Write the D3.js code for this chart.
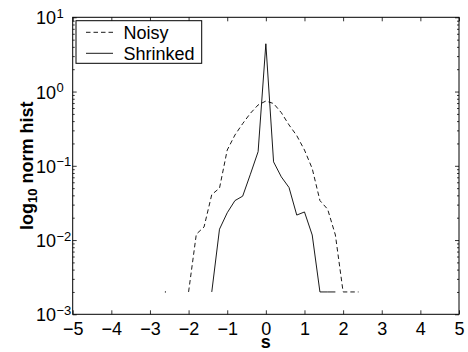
<!DOCTYPE html>
<html><head><meta charset="utf-8">
<script src="https://cdn.jsdelivr.net/npm/d3@7"></script>
<style>
html,body{margin:0;padding:0;background:#fff;}
svg{display:block;font-family:"Liberation Sans",Arial,Helvetica,sans-serif;}
</style></head>
<body><svg id="c" width="468" height="352"></svg>
<script>
// data
const sValues = [-2.6,-2.4,-2.2,-2.0,-1.8,-1.6,-1.4,-1.2,-1.0,-0.8,-0.6,-0.4,-0.2,0,0.2,0.4,0.6,0.8,1.0,1.2,1.4,1.6,1.8,2.0,2.2,2.4];
const noisy = [0.002,null,null,0.002,0.012,0.015,0.041,0.050,0.163,0.26,0.37,0.51,0.66,0.745,0.69,0.52,0.355,0.255,0.163,0.092,0.034,0.026,0.0117,0.002,0.002,0.002];
const shrinked = [null,null,null,null,null,null,0.002,0.014,0.0233,0.034,0.039,0.077,0.155,4.4,0.113,0.071,0.051,0.0217,0.0239,0.0117,0.002,0.002,0.002,null,null,null];
const seriesNames = ["Noisy","Shrinked"];
const xTicks = [-5,-4,-3,-2,-1,0,1,2,3,4,5];
const yExponents = [1,0,-1,-2,-3];
const xLabel = "s";

const svg = d3.select("#c");
const L = 72.7, R = 459, T = 17.3, B = 314.3;
const x = d3.scaleLinear().domain([-5,5]).range([L,R]);
const y = d3.scaleLog().domain([1e-3,10]).range([B,T]);

const majors = yExponents.map(e => Math.pow(10,e));
const minors = [];
for (let e=-3;e<1;e++) for (let m=2;m<10;m++) minors.push(m*Math.pow(10,e));

// axes
const gB = svg.append("g").attr("transform",`translate(0,${B})`)
  .call(d3.axisBottom(x).tickValues(xTicks).tickSizeInner(-4).tickSizeOuter(0).tickPadding(8).tickFormat(d=>d<0?"\u2212"+Math.abs(d):String(d)));
svg.append("g").attr("transform",`translate(0,${T})`)
  .call(d3.axisTop(x).tickValues(xTicks).tickSizeInner(-4).tickSizeOuter(0).tickFormat(""));
svg.append("g").attr("transform",`translate(${L},0)`)
  .call(d3.axisLeft(y).tickValues(majors).tickSizeInner(-4).tickSizeOuter(0).tickFormat(""));
svg.append("g").attr("transform",`translate(${L},0)`)
  .call(d3.axisLeft(y).tickValues(minors).tickSizeInner(-2).tickSizeOuter(0).tickFormat(""));
svg.append("g").attr("transform",`translate(${R},0)`)
  .call(d3.axisRight(y).tickValues(majors).tickSizeInner(-4).tickSizeOuter(0).tickFormat(""));
svg.append("g").attr("transform",`translate(${R},0)`)
  .call(d3.axisRight(y).tickValues(minors).tickSizeInner(-2).tickSizeOuter(0).tickFormat(""));
svg.selectAll(".domain").remove();
svg.selectAll(".tick line").attr("stroke","#000").attr("stroke-width",0.8);
gB.selectAll("text").attr("font-size",18).attr("fill","#000").attr("font-family","Liberation Sans, Arial, sans-serif");

// y tick labels 10^e
const yl = svg.append("g");
yExponents.forEach(e => {
  const py = y(Math.pow(10,e));
  const t = yl.append("text").attr("x",36).attr("y",py+7).attr("font-size",18);
  t.append("tspan").text("10");
  t.append("tspan").attr("font-size",13).attr("dx",0.5).attr("dy",-6.5)
    .text(e<0 ? "\u2212"+Math.abs(e) : String(e));
});

// frame
svg.append("rect").attr("x",L).attr("y",T).attr("width",R-L).attr("height",B-T)
  .attr("fill","none").attr("stroke","#000").attr("stroke-width",1);

// lines
const line = d3.line().defined(d=>d[1]!=null).x(d=>x(d[0])).y(d=>y(d[1]));
const nData = sValues.map((s,i)=>[s,noisy[i]]);
const sData = sValues.map((s,i)=>[s,shrinked[i]]);
svg.append("path").attr("d",line(nData)).attr("fill","none").attr("stroke","#000")
  .attr("stroke-width",0.9).attr("stroke-dasharray","4.5,3");
svg.append("path").attr("d",line(sData)).attr("fill","none").attr("stroke","#000")
  .attr("stroke-width",0.9);
// isolated points (no neighbours) show as a dot
const isolated = nData.filter((d,i)=>d[1]!=null && (i===0||nData[i-1][1]==null) && (i===nData.length-1||nData[i+1][1]==null));
svg.selectAll("circle.iso").data(isolated).join("circle").attr("class","iso")
  .attr("cx",d=>x(d[0])).attr("cy",d=>y(d[1])).attr("r",0.6).attr("fill","#000");

// legend
const lg = svg.append("g");
lg.append("rect").attr("x",76).attr("y",20.7).attr("width",125.7).attr("height",42.6)
  .attr("fill","#fff").attr("stroke","#000").attr("stroke-width",1);
lg.append("line").attr("x1",86).attr("x2",113).attr("y1",32.3).attr("y2",32.3)
  .attr("stroke","#000").attr("stroke-width",0.9).attr("stroke-dasharray","4.5,3");
lg.append("line").attr("x1",86).attr("x2",113).attr("y1",53.3).attr("y2",53.3)
  .attr("stroke","#000").attr("stroke-width",0.9);
lg.append("text").attr("x",123.5).attr("y",38.5).attr("font-size",18).text(seriesNames[0]);
lg.append("text").attr("x",123.5).attr("y",59.5).attr("font-size",18).text(seriesNames[1]);

// axis titles
svg.append("text").attr("x",(L+R)/2).attr("y",348).attr("text-anchor","middle")
  .attr("font-size",18).attr("font-weight","bold").text(xLabel);
const yt = svg.append("text").attr("transform",`translate(32.5,${(T+B)/2}) rotate(-90)`)
  .attr("text-anchor","middle").attr("font-size",18).attr("font-weight","bold");
yt.append("tspan").text("log");
yt.append("tspan").attr("font-size",13).attr("dy",4).text("10");
yt.append("tspan").attr("dy",-4).text(" norm hist");
</script></body></html>
